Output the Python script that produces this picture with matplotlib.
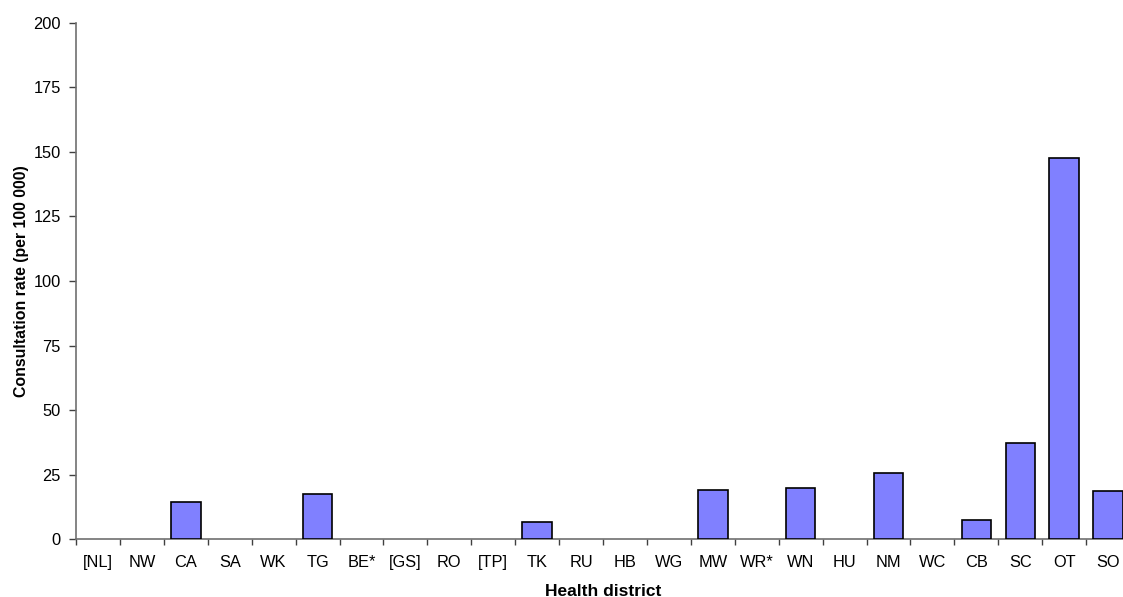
import matplotlib
matplotlib.use("Agg")
import matplotlib.pyplot as plt
import numpy as np

plt.rcParams['font.family'] = ['Liberation Sans', 'DejaVu Sans']

districts = ["[NL]", "NW", "CA", "SA", "WK", "TG", "BE*", "[GS]", "RO", "[TP]", "TK", "RU",
             "HB", "WG", "MW", "WR*", "WN", "HU", "NM", "WC", "CB", "SC", "OT", "SO"]
rates = [0, 0, 14.4, 0, 0, 17.7, 0, 0, 0, 0, 6.6, 0,
         0, 0, 19.0, 0, 19.9, 0, 25.5, 0, 7.5, 37.4, 147.5, 18.7]
yticks = [0, 25, 50, 75, 100, 125, 150, 175, 200]

fig = plt.figure(figsize=(11.23, 5.97), dpi=100)
ax = fig.add_axes([0.0677, 0.0967, 1.0063 - 0.0677, 0.962 - 0.0967])

x = np.arange(len(districts))
lws = [1.2 if r > 0 else 0 for r in rates]
ax.bar(x, rates, width=0.67, color='#8080FF', edgecolor='black', linewidth=lws, zorder=3)

ax.set_xlim(-0.5, len(districts) - 0.5)
ax.set_ylim(0, 200)
ax.set_yticks(yticks)
ax.set_yticklabels([str(t) for t in yticks], fontsize=11.8)
ax.set_xticks(x)
ax.set_xticklabels(districts, fontsize=11.8)
ax.tick_params(axis='x', which='major', length=0, pad=11)
ax.set_xticks(np.arange(-0.5, len(districts), 1.0), minor=True)
ax.tick_params(axis='x', which='minor', length=4, width=1, color='#404040', direction='out')
ax.tick_params(axis='y', length=5, width=1, color='#404040', pad=6)

for s in ['top', 'right']:
    ax.spines[s].set_visible(False)
for s in ['left', 'bottom']:
    ax.spines[s].set_color('#707070')
    ax.spines[s].set_linewidth(1.2)

ax.set_ylabel("Consultation rate (per 100 000)", fontsize=11.4, fontweight='bold')
ax.yaxis.set_label_coords(-0.0445, 0.5)
ax.set_xlabel("Health district", fontsize=12.5, fontweight='bold')
ax.xaxis.set_label_coords(0.5, -0.0865)

fig.savefig("out.png", dpi=100)
